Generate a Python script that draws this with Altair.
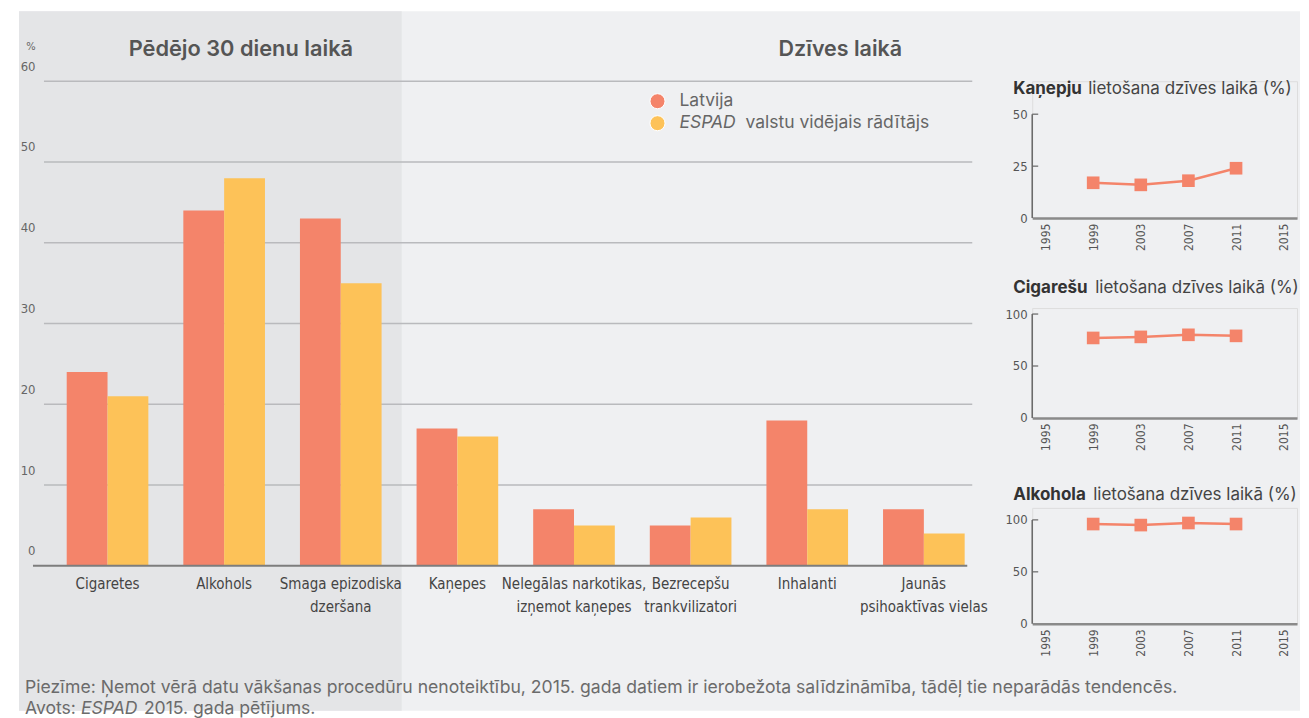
import altair as alt
import pandas as pd

# ---------------- data ----------------
categories = ["Cigaretes", "Alkohols", "Smaga epizodiska\ndzeršana", "Kaņepes",
              "Nelegālas narkotikas,\nizņemot kaņepes", "Bezrecepšu\ntrankvilizatori",
              "Inhalanti", "Jaunās\npsihoaktīvas vielas"]
series = ["Latvija", "ESPAD valstu vidējais rādītājs"]
latvija = [24, 44, 43, 17, 7, 5, 18, 7]
espad = [21, 48, 35, 16, 5, 6, 7, 4]
y_ticks = [0, 10, 20, 30, 40, 50, 60]

trend_years = [1995, 1999, 2003, 2007, 2011, 2015]
data_years = [1999, 2003, 2007, 2011]
kanepju = [17, 16, 18, 24]
cigaresu = [77, 78, 80, 79]
alkohola = [96, 95, 97, 96]

# ---------------- style ----------------
LAT = "#f4846a"
ESP = "#fdc258"
MAIN = "Inter, Noto Sans, sans-serif"
NARROW = "Liberation Sans Narrow, DejaVu Sans Condensed, Roboto Condensed, Roboto, sans-serif"
W, H = 929, 485

rows = []
for c, a, b in zip(categories, latvija, espad):
    rows.append({"category": c, "series": series[0], "value": a})
    rows.append({"category": c, "series": series[1], "value": b})
bars_df = pd.DataFrame(rows)
grid_df = pd.DataFrame({"value": y_ticks[1:]})
base_df = pd.DataFrame({"value": [0]})
one = pd.DataFrame({"k": [0]})


def txt(s, x, y, size, color, weight="normal", style="normal", align="left", font=MAIN):
    return alt.Chart(one).mark_text(
        text=s, align=align, baseline="middle", fontSize=size, color=color,
        fontWeight=weight, fontStyle=style, font=font
    ).encode(x=alt.value(x), y=alt.value(y))


def rect(x1, x2, y1, y2, color):
    return alt.Chart(one).mark_rect(color=color).encode(
        x=alt.value(x1), x2=alt.value(x2), y=alt.value(y1), y2=alt.value(y2))


yenc = alt.Y("value:Q", scale=alt.Scale(domain=[0, 60], nice=False),
             axis=alt.Axis(values=y_ticks, grid=False, domain=False, ticks=False,
                           labelFont=NARROW, labelFontSize=13, labelColor="#666",
                           labelPadding=9, labelOffset=-15, title=None, zindex=1))

bg = rect(-25, 1257, -70, 630, "#eff0f2")
dark = rect(-25, 358, -70, 630, "#e4e5e7")

grid = alt.Chart(grid_df).mark_rule(color="#b9babd", strokeWidth=1.5).encode(
    y=yenc, x=alt.value(0), x2=alt.value(W))

bars = alt.Chart(bars_df).mark_bar().encode(
    x=alt.X("category:N", sort=categories,
            scale=alt.Scale(paddingInner=0.3, paddingOuter=0.13, align=0.75, round=False),
            axis=alt.Axis(labelExpr="split(datum.label, '\\n')", labelAngle=0, domain=False,
                          ticks=False, labelFont=NARROW, labelFontSize=15, labelColor="#444",
                          labelPadding=11, labelLineHeight=23, title=None, zindex=1)),
    xOffset=alt.XOffset("series:N", sort=series),
    y=yenc,
    color=alt.Color("series:N", scale=alt.Scale(domain=series, range=[LAT, ESP]), legend=None),
)

baseline = alt.Chart(base_df).mark_rule(color="#7d7d7d", strokeWidth=2).encode(
    y=yenc, x=alt.value(-11), x2=alt.value(924))

leg1 = alt.Chart(one).mark_circle(size=227, opacity=1, color=LAT, stroke="white", strokeWidth=1).encode(
    x=alt.value(614), y=alt.value(20))
leg2 = alt.Chart(one).mark_circle(size=227, opacity=1, color=ESP, stroke="white", strokeWidth=1).encode(
    x=alt.value(614), y=alt.value(42))

FN = "#6b6b6b"
main = alt.layer(
    bg, dark, grid, bars, baseline,
    txt("%", -13, -34, 11, "#666", align="center", font=NARROW),
    txt("Pēdējo 30 dienu laikā", 197, -32, 21.8, "#555", weight=600, align="center"),
    txt("Dzīves laikā", 797, -31, 21.5, "#555", weight=600, align="center"),
    leg1, leg2,
    txt("Latvija", 636, 20, 17.5, "#666"),
    txt("ESPAD", 636, 42, 17.5, "#666", style="italic"),
    txt("valstu vidējais rādītājs", 702, 42, 17.5, "#666"),
    txt("Piezīme: Ņemot vērā datu vākšanas procedūru nenoteiktību, 2015. gada datiem ir "
        "ierobežota salīdzināmība, tādēļ tie neparādās tendencēs.", -19, 607, 17.6, FN),
    txt("Avots:", -19, 628, 17.6, FN),
    txt("ESPAD", 37, 628, 17.6, FN, style="italic"),
    txt("2015. gada pētījums.", 100, 628, 17.6, FN),
).properties(width=W, height=H)


def small(vals, ymax, yvals, extra, bold, rest, rest_x, title_y):
    df = pd.DataFrame({"year": data_years, "value": vals})
    hgt = 104 + extra
    x = alt.X("year:O", scale=alt.Scale(type="point", domain=trend_years, padding=0.28),
              axis=alt.Axis(labelAngle=270, ticks=False, domainColor="#8a8a8a", domainWidth=2.5,
                            labelFont=NARROW, labelFontSize=12, labelColor="#555",
                            labelPadding=5, title=None, grid=False))
    yscale = alt.Scale(domain=[0, ymax * hgt / 104], nice=False)
    y = alt.Y("value:Q", scale=yscale,
              axis=alt.Axis(values=yvals, ticks=False, domain=False,
                            labelFont=NARROW, labelFontSize=13, labelColor="#555",
                            labelPadding=5, title=None, grid=False))
    axis_line = alt.Chart(one).mark_rule(color="#666", strokeWidth=1.5).encode(
        y=alt.datum(0, scale=yscale), y2=alt.datum(ymax), x=alt.value(0))
    tick_marks = [
        alt.Chart(one).mark_rule(color="#666", strokeWidth=1.2).encode(
            y=alt.datum(v), x=alt.value(0), x2=alt.value(6))
        for v in yvals if v > 0
    ]
    line = alt.Chart(df).mark_line(color=LAT, strokeWidth=2.5).encode(x=x, y=y)
    pts = alt.Chart(df).mark_square(size=160, color=LAT, opacity=1).encode(x=x, y=y)
    t1 = txt(bold, -19, title_y, 17, "#333", weight="bold")
    t2 = txt(rest, rest_x, title_y, 17, "#444")
    return alt.layer(line, axis_line, *tick_marks, pts, t1, t2).properties(width=265, height=hgt)


c1 = small(kanepju, 50, [0, 25, 50], 33, "Kaņepju", "lietošana dzīves laikā (%)", 56, 8)
c2 = small(cigaresu, 100, [0, 50, 100], 6, "Cigarešu", "lietošana dzīves laikā (%)", 63, -20)
c3 = small(alkohola, 100, [0, 50, 100], 12, "Alkohola", "lietošana dzīves laikā (%)", 61, -13)

right = alt.vconcat(c1, c2, c3, spacing=90, bounds="flush")

chart = alt.hconcat(main, right, spacing=60, bounds="flush").properties(
    padding={"left": 10, "top": 2, "right": 0, "bottom": 0}
).configure_view(strokeWidth=0).configure(background="white")

chart.save("out.html", embed_options={"renderer": "svg", "actions": False})
